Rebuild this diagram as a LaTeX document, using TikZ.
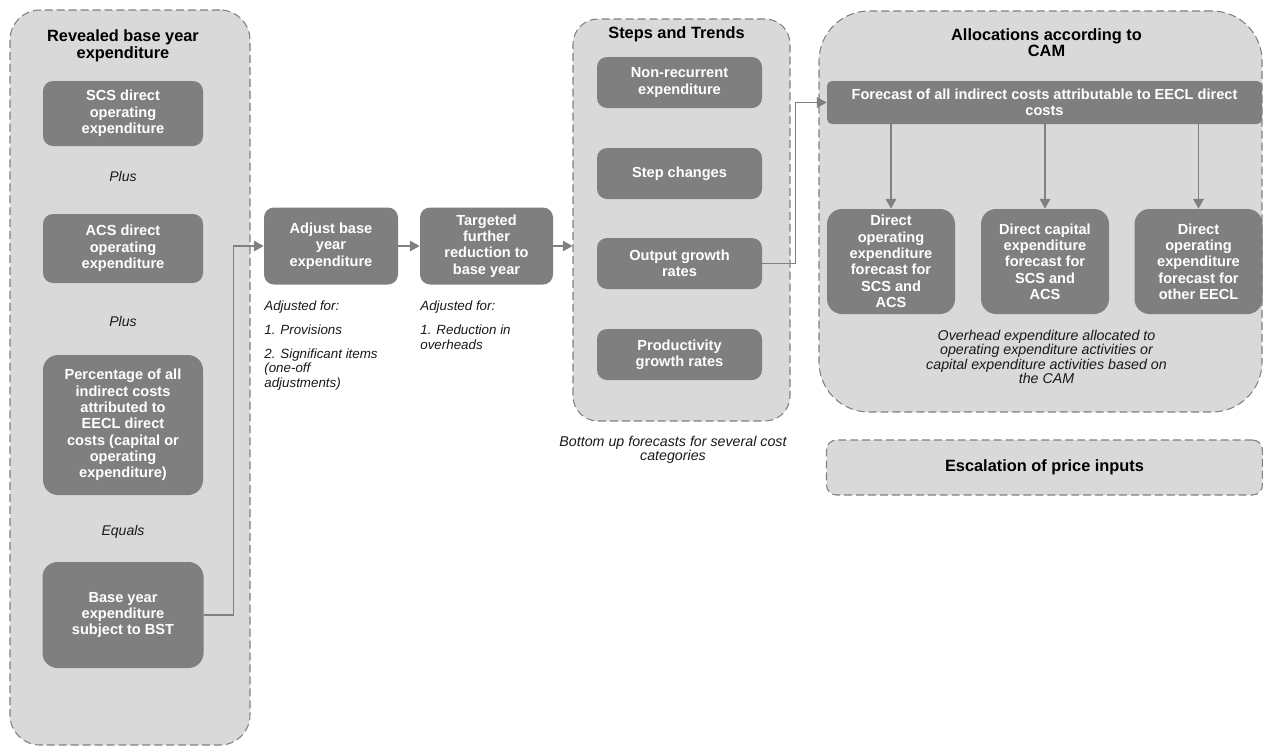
\documentclass[tikz,border=0pt]{standalone}
\usepackage{fontspec}
\setmainfont{Liberation Sans}
\usetikzlibrary{arrows.meta}

\definecolor{boxgray}{HTML}{7F7F7F}
\definecolor{panelgray}{HTML}{D9D9D9}
\definecolor{edgegray}{HTML}{808080}

\tikzset{
  panel/.style={draw=edgegray, fill=panelgray, dash pattern=on 4.5pt off 2.3pt, line width=0.6pt},
  box/.style={fill=boxgray, rounded corners=0.2cm, text=white, align=center, inner sep=1pt,
    font=\fontsize{8.3}{9.3}\selectfont\bfseries},
  paneltitle/.style={font=\fontsize{9.3}{9.4}\selectfont\bfseries, align=center},
  note/.style={font=\fontsize{7.6}{8.2}\selectfont\itshape, align=center, text=black!90},
  widenote/.style={note, font=\fontsize{8.1}{8.1}\selectfont\itshape},
  joiner/.style={font=\fontsize{8}{9}\selectfont\itshape, text=black!90},
  link/.style={draw=edgegray, line width=0.7pt, -{Triangle[length=5.5pt,width=6pt]}},
}

\begin{document}
\begin{tikzpicture}
      \useasboundingbox (0,0) rectangle (25.26,-14.92);
      % panels
      \node (reveal) [panel, rounded corners=0.6cm, minimum width=4.8cm, minimum height=14.7cm] at (2.6,-7.55) {};
      \node (steps) [panel, rounded corners=0.5cm, minimum width=4.34cm, minimum height=8.04cm] at (13.63,-4.4) {};
      \node (alloc) [panel, rounded corners=1cm, minimum width=8.86cm, minimum height=8.02cm] at (20.81,-4.23) {};
      \node (escal) [panel, rounded corners=0.2cm, minimum width=8.72cm, minimum height=1.1cm, paneltitle] at (20.89,-9.35) {Escalation of price inputs};

      % revealed base year expenditure
      \node (revealtitle) [paneltitle] at (2.46,-0.92) {Revealed base year\\expenditure};
      \node (scs) [box, minimum width=3.2cm, minimum height=1.3cm] at (2.46,-2.27) {SCS direct\\operating\\expenditure};
      \node (plusa) [joiner] at (2.46,-3.52) {Plus};
      \node (acs) [box, minimum width=3.2cm, minimum height=1.38cm] at (2.46,-4.97) {ACS direct\\operating\\expenditure};
      \node (plusb) [joiner] at (2.46,-6.42) {Plus};
      \node (share) [box, rounded corners=0.3cm, minimum width=3.2cm, minimum height=2.8cm] at (2.46,-8.5) {Percentage of all\\indirect costs\\attributed to\\EECL direct\\costs (capital or\\operating\\expenditure)};
      \node (equals) [joiner] at (2.46,-10.64) {Equals};
      \node (base) [box, rounded corners=0.3cm, minimum width=3.22cm, minimum height=2.12cm] at (2.46,-12.3) {Base year\\expenditure\\subject to BST};

      % adjustments
      \node (adjust) [box, minimum width=2.68cm, minimum height=1.54cm] at (6.62,-4.92) {Adjust base\\year\\expenditure};
      \node (target) [box, minimum width=2.66cm, minimum height=1.54cm] at (9.73,-4.92) {Targeted\\further\\reduction to\\base year};
      \node (adjustnote) [note, align=left, anchor=north west, inner sep=0pt] at (5.28,-6.0) {Adjusted for:\\[6pt]1. Provisions\\[5pt]2. Significant items\\(one-off\\adjustments)};
      \node (targetnote) [note, align=left, anchor=north west, inner sep=0pt] at (8.4,-6.0) {Adjusted for:\\[6pt]1. Reduction in\\overheads};

      % steps and trends
      \node (stepstitle) [paneltitle] at (13.53,-0.68) {Steps and Trends};
      \node (nonrec) [box, minimum width=3.3cm, minimum height=1.02cm] at (13.59,-1.65) {Non-recurrent\\expenditure};
      \node (stepchg) [box, minimum width=3.3cm, minimum height=1.02cm] at (13.59,-3.47) {Step changes};
      \node (output) [box, minimum width=3.3cm, minimum height=1.02cm] at (13.59,-5.27) {Output growth\\rates};
      \node (product) [box, minimum width=3.3cm, minimum height=1.02cm] at (13.59,-7.09) {Productivity\\growth rates};
      \node (stepsnote) [widenote] at (13.46,-9.0) {Bottom up forecasts for several cost\\categories};

      % allocations according to CAM
      \node (alloctitle) [paneltitle] at (20.93,-0.85) {Allocations according to\\CAM};
      \node (forecast) [box, rounded corners=0.1cm, minimum width=8.7cm, minimum height=0.86cm] at (20.89,-2.05) {Forecast of all indirect costs attributable to EECL direct\\costs};
      \node (opexa) [box, rounded corners=0.3cm, minimum width=2.56cm, minimum height=2.1cm] at (17.82,-5.23) {Direct\\operating\\expenditure\\forecast for\\SCS and\\ACS};
      \node (capex) [box, rounded corners=0.3cm, minimum width=2.56cm, minimum height=2.1cm] at (20.9,-5.23) {Direct capital\\expenditure\\forecast for\\SCS and\\ACS};
      \node (opexb) [box, rounded corners=0.3cm, minimum width=2.56cm, minimum height=2.1cm] at (23.97,-5.23) {Direct\\operating\\expenditure\\forecast for\\other EECL};
      \node (allocnote) [widenote] at (20.93,-7.14) {Overhead expenditure allocated to\\operating expenditure activities or\\capital expenditure activities based on\\the CAM};

      % connectors
      \draw [link] (base.east) -- ++(0.59,0) |- (adjust.west);
      \draw [link] (adjust) -- (target);
      \draw [link] (target.east) -- (target.east -| steps.west);
      \draw [link] (output.east) -- ++(0.66,0) |- (forecast.west);
      \foreach \d in {opexa,capex,opexb}
        \draw [link] (\d |- forecast.south) -- (\d.north);
\end{tikzpicture}
\end{document}
